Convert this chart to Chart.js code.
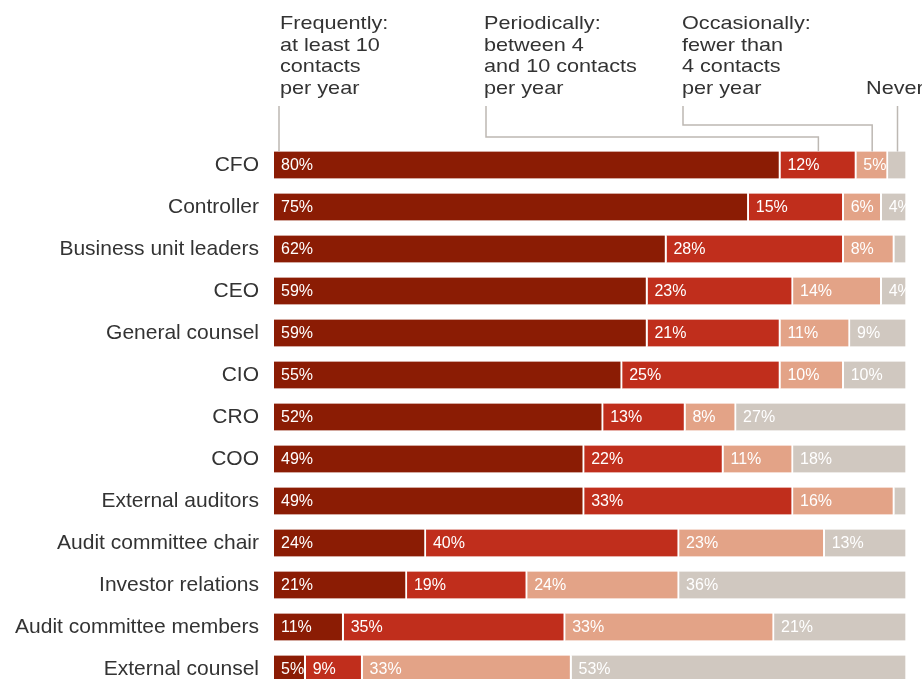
<!DOCTYPE html>
<html>
<head>
<meta charset="utf-8">
<script src="https://cdn.jsdelivr.net/npm/chart.js@4"></script>
<style>
  html, body { margin: 0; padding: 0; background: #fff; overflow: hidden; }
  #wrap { position: relative; width: 922px; height: 690px; }
  canvas { display: block; }
  .hdr { position: absolute; font-family: "Liberation Sans", Arial, Helvetica, sans-serif; font-size: 18.5px; line-height: 21.7px; color: #333; white-space: nowrap; transform: scaleX(1.17); transform-origin: 0 0; }
</style>
</head>
<body>
<div id="wrap">
  <canvas id="c" width="922" height="690"></canvas>
  <div class="hdr" style="left:280px;top:12px;">Frequently:<br>at least 10<br>contacts<br>per year</div>
  <div class="hdr" style="left:484px;top:12px;">Periodically:<br>between 4<br>and 10 contacts<br>per year</div>
  <div class="hdr" style="left:682px;top:12px;">Occasionally:<br>fewer than<br>4 contacts<br>per year</div>
  <div class="hdr" style="left:866px;top:77px;">Never</div>
</div>
<script>
const categories = ["CFO", "Controller", "Business unit leaders", "CEO", "General counsel", "CIO", "CRO", "COO", "External auditors", "Audit committee chair", "Investor relations", "Audit committee members", "External counsel"];
const frequently   = [80, 75, 62, 59, 59, 55, 52, 49, 49, 24, 21, 11, 5];
const periodically = [12, 15, 28, 23, 21, 25, 13, 22, 33, 40, 19, 35, 9];
const occasionally = [5, 6, 8, 14, 11, 10, 8, 11, 16, 23, 24, 33, 33];
const never        = [3, 4, 2, 4, 9, 10, 27, 18, 2, 13, 36, 21, 53];
const seriesNames = ["Frequently", "Periodically", "Occasionally", "Never"];
const seriesColors = ["#8b1c04", "#c02e1c", "#e3a387", "#d0c8c0"];
const seriesData = [frequently, periodically, occasionally, never];

const FONT = '"Liberation Sans", Arial, Helvetica, sans-serif';

const labelPlugin = {
  id: 'segLabels',
  afterDatasetsDraw(chart) {
    const ctx = chart.ctx;
    ctx.save();
    ctx.font = '16px ' + FONT;
    ctx.fillStyle = '#ffffff';
    ctx.textBaseline = 'middle';
    ctx.textAlign = 'left';
    chart.data.datasets.forEach((ds, di) => {
      const meta = chart.getDatasetMeta(di);
      meta.data.forEach((el, i) => {
        const v = ds.data[i];
        if (v < 4) return;
        const start = Math.min(el.base, el.x);
        ctx.fillText(v + '%', start + 7, el.y + 1);
      });
    });
    ctx.restore();
  }
};

const leaderPlugin = {
  id: 'leaders',
  afterDraw(chart) {
    const ctx = chart.ctx;
    const els = [0, 1, 2, 3].map(i => chart.getDatasetMeta(i).data[0]);
    const mid = el => (el.base + el.x) / 2;
    const top = els[0].y - els[0].height / 2;
    const y0 = 106;
    ctx.save();
    ctx.strokeStyle = '#bdb8b3';
    ctx.lineWidth = 1.5;
    ctx.beginPath();
    const fx = chart.chartArea.left + 5;
    ctx.moveTo(fx, y0); ctx.lineTo(fx, top);
    ctx.moveTo(486, y0); ctx.lineTo(486, 137); ctx.lineTo(mid(els[1]), 137); ctx.lineTo(mid(els[1]), top);
    ctx.moveTo(683, y0); ctx.lineTo(683, 125); ctx.lineTo(mid(els[2]), 125); ctx.lineTo(mid(els[2]), top);
    ctx.moveTo(mid(els[3]), y0); ctx.lineTo(mid(els[3]), top);
    ctx.stroke();
    ctx.restore();
  }
};

new Chart(document.getElementById('c'), {
  type: 'bar',
  data: {
    labels: categories,
    datasets: seriesData.map((d, i) => ({
      label: seriesNames[i],
      data: d,
      backgroundColor: seriesColors[i],
      borderColor: '#ffffff',
      borderWidth: { top: 0, right: 2, bottom: 0, left: 0 },
      borderSkipped: false,
      barThickness: 27
    }))
  },
  options: {
    indexAxis: 'y',
    responsive: false,
    animation: false,
    layout: { padding: { top: 144, right: 15, bottom: 0, left: 0 } },
    plugins: { legend: { display: false }, tooltip: { enabled: false } },
    scales: {
      x: { stacked: true, min: 0, max: 100, display: false },
      y: {
        stacked: true,
        grid: { display: false, drawTicks: false },
        border: { display: false },
        ticks: { color: '#333', font: { family: FONT, size: 21 }, padding: 15 },
        afterFit: s => { s.width = 274; s.paddingTop = 0; s.paddingBottom = 0; }
      }
    }
  },
  plugins: [labelPlugin, leaderPlugin]
});
</script>
</body>
</html>
